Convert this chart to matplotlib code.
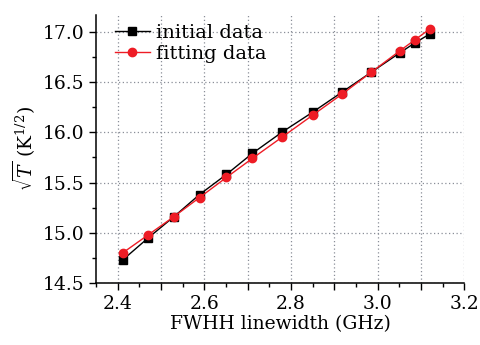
import matplotlib

matplotlib.use("Agg")
import matplotlib.pyplot as plt
from matplotlib.ticker import MultipleLocator, FuncFormatter

# FWHH linewidth (GHz) and sqrt(T) values
linewidth = [2.412, 2.471, 2.530, 2.589, 2.651, 2.711, 2.779,
             2.850, 2.918, 2.986, 3.051, 3.086, 3.121]
initial = [14.73, 14.95, 15.16, 15.38, 15.58, 15.79, 16.00,
           16.20, 16.40, 16.60, 16.79, 16.89, 16.98]
fitting = [14.80, 14.98, 15.16, 15.35, 15.55, 15.74, 15.95,
           16.17, 16.38, 16.60, 16.81, 16.92, 17.03]

plt.rcParams["font.family"] = "DejaVu Serif"
plt.rcParams["mathtext.fontset"] = "dejavuserif"
plt.rcParams["font.size"] = 13.5

fig = plt.figure(figsize=(4.8, 3.45), dpi=100)
ax = fig.add_axes([0.2, 0.18, 0.767, 0.777])

ax.plot(linewidth, initial, "-s", color="black", lw=1.0, ms=5.5,
        label="initial data", zorder=3)
ax.plot(linewidth, fitting, "-o", color="#ee1c25", lw=1.0, ms=6,
        label="fitting data", zorder=4)

ax.set_xlim(2.35, 3.2)
ax.set_ylim(14.5, 17.17)
ax.xaxis.set_major_locator(MultipleLocator(0.1))
ax.xaxis.set_minor_locator(MultipleLocator(0.05))
ax.xaxis.set_major_formatter(FuncFormatter(
    lambda v, _: f"{v:.1f}" if round(v * 10) % 2 == 0 else ""))
ax.yaxis.set_major_locator(MultipleLocator(0.5))
ax.yaxis.set_minor_locator(MultipleLocator(0.25))
ax.yaxis.set_major_formatter(FuncFormatter(lambda v, _: f"{v:.1f}"))

ax.tick_params(which="major", direction="out", length=5, width=1)
ax.tick_params(which="minor", direction="out", length=3, width=1)
for s in ("top", "right"):
    ax.spines[s].set_visible(False)
for s in ("left", "bottom"):
    ax.spines[s].set_linewidth(1.1)

ax.grid(True, which="major", ls=(0, (1, 2)), color="#8a8f98", lw=0.9)
ax.set_axisbelow(True)

ax.set_xlabel("FWHH linewidth (GHz)", labelpad=2)
ax.set_ylabel(r"$\sqrt{T}$ (K$^{1/2}$)", labelpad=4)

ax.legend(loc="upper left", frameon=False, fontsize=14, handlelength=1.8,
          handletextpad=0.3, labelspacing=0.15, borderaxespad=0.0,
          bbox_to_anchor=(0.03, 0.995))

fig.savefig("out.png", dpi=100)
